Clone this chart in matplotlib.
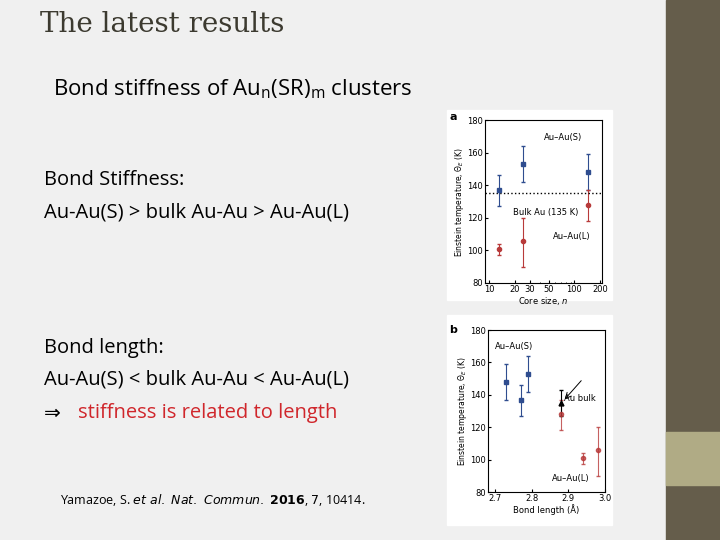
import matplotlib
matplotlib.use("Agg")
import matplotlib.pyplot as plt
from matplotlib.patches import Rectangle

BLUE = "#2f4d8f"
RED = "#b83a3a"
OLIVE = "#655d4b"
OLIVE_LIGHT = "#b0ab85"

# panel a: core size vs Einstein temperature
core_size = [13, 25, 144]
s_temp = [137, 153, 148]
s_err_lo = [10, 11, 11]
s_err_hi = [9, 11, 11]
l_temp = [101, 106, 128]
l_err_lo = [4, 16, 10]
l_err_hi = [3, 14, 9]
bulk_temp = 135

# panel b: bond length vs Einstein temperature
s_len = [2.73, 2.77, 2.79]
s_len_temp = [148, 137, 153]
s_len_err = [[11, 10, 11], [11, 9, 11]]
l_len = [2.88, 2.94, 2.98]
l_len_temp = [128, 101, 106]
l_len_err = [[10, 4, 16], [9, 3, 14]]
bulk_len = 2.88
bulk_err = 8

fig = plt.figure(figsize=(7.2, 5.4), dpi=100)
fig.patch.set_facecolor("#f0f0f0")


def add_rect(x, y, w, h, color):
    r = Rectangle((x / 720, 1 - (y + h) / 540), w / 720, h / 540, transform=fig.transFigure,
                  color=color, zorder=-5)
    fig.add_artist(r)


add_rect(666, 0, 54, 540, OLIVE)
add_rect(666, 432, 54, 53, OLIVE_LIGHT)
add_rect(447, 110, 165, 190, "white")
add_rect(447, 315, 165, 210, "white")

fig.text(40 / 720, 1 - 24 / 540, "The latest results", fontsize=20, family="DejaVu Serif",
         color="#3c3a30", va="center")
fig.text(53 / 720, 1 - 89 / 540, r"Bond stiffness of Au$_\mathregular{n}$(SR)$_\mathregular{m}$ clusters",
         fontsize=16, family="Open Sans", va="center")
fig.text(44 / 720, 1 - 180 / 540, "Bond Stiffness:", fontsize=14.5, family="Open Sans", va="center")
fig.text(44 / 720, 1 - 213 / 540, "Au-Au(S) > bulk Au-Au > Au-Au(L)", fontsize=14.5, family="Open Sans",
         va="center")
fig.text(44 / 720, 1 - 348 / 540, "Bond length:", fontsize=14.5, family="Open Sans", va="center")
fig.text(44 / 720, 1 - 380 / 540, "Au-Au(S) < bulk Au-Au < Au-Au(L)", fontsize=14.5, family="Open Sans",
         va="center")
fig.text(44 / 720, 1 - 413 / 540, "⇒", fontsize=14.5, family="DejaVu Sans", va="center")
fig.text(78 / 720, 1 - 413 / 540, "stiffness is related to length", fontsize=14.5, family="Open Sans",
         va="center", color="#d0262b")
fig.text(60 / 720, 1 - 500 / 540, r"Yamazoe, S. $\it{et\ al.\ Nat.\ Commun.}$ $\bf{2016}$, $\it{7}$, 10414.",
         fontsize=9, family="Open Sans", va="center")

tick_kw = dict(labelsize=6, length=2, pad=1.5, direction="in")

# panel a
ax = fig.add_axes([485 / 720, 1 - 283 / 540, 117 / 720, 163 / 540])
ax.errorbar(core_size, s_temp, yerr=[s_err_lo, s_err_hi], fmt="s", color=BLUE, ms=3, capsize=1.5, elinewidth=0.8)
ax.errorbar(core_size, l_temp, yerr=[l_err_lo, l_err_hi], fmt="o", color=RED, ms=3, capsize=1.5, elinewidth=0.8)
ax.axhline(bulk_temp, color="black", ls=":", lw=1)
ax.set_xscale("log")
ax.set_xlim(9, 210)
ax.set_ylim(80, 180)
ax.set_xticks([10, 20, 30, 50, 100, 200])
ax.set_xticklabels(["10", "20", "30", "50", "100", "200"])
ax.set_yticks([80, 100, 120, 140, 160, 180])
ax.tick_params(**tick_kw)
ax.tick_params(which="minor", direction="in", length=1)
ax.set_xlabel("Core size, $n$", fontsize=6, labelpad=1)
ax.set_ylabel(r"Einstein temperature, $\Theta_E$ (K)", fontsize=5.5, labelpad=1)
ax.text(0.5, 0.88, "Au–Au(S)", transform=ax.transAxes, fontsize=6)
ax.text(0.24, 0.42, "Bulk Au (135 K)", transform=ax.transAxes, fontsize=6)
ax.text(0.58, 0.27, "Au–Au(L)", transform=ax.transAxes, fontsize=6)
fig.text(449 / 720, 1 - 120 / 540, "a", fontsize=8, weight="bold")

# panel b
bx = fig.add_axes([488 / 720, 1 - 492 / 540, 117 / 720, 162 / 540])
bx.errorbar(s_len, s_len_temp, yerr=s_len_err, fmt="s", color=BLUE, ms=3, capsize=1.5, elinewidth=0.8)
bx.errorbar(l_len, l_len_temp, yerr=l_len_err, fmt="o", color=RED, ms=3, capsize=1.5,
            elinewidth=0.8, alpha=0.8)
bx.errorbar([bulk_len], [bulk_temp], yerr=bulk_err, fmt="^", color="black", ms=3.5, capsize=1.5, elinewidth=0.8)
bx.annotate("", xy=(2.885, 136), xytext=(2.94, 150), arrowprops=dict(arrowstyle="->", lw=0.7))
bx.set_xlim(2.68, 3.0)
bx.set_ylim(80, 180)
bx.set_xticks([2.7, 2.8, 2.9, 3.0])
bx.set_yticks([80, 100, 120, 140, 160, 180])
bx.tick_params(**tick_kw)
bx.set_xlabel("Bond length (Å)", fontsize=6, labelpad=1)
bx.set_ylabel(r"Einstein temperature, $\Theta_E$ (K)", fontsize=5.5, labelpad=1)
bx.text(0.06, 0.88, "Au–Au(S)", transform=bx.transAxes, fontsize=6)
bx.text(0.65, 0.56, "Au bulk", transform=bx.transAxes, fontsize=6)
bx.text(0.55, 0.07, "Au–Au(L)", transform=bx.transAxes, fontsize=6)
fig.text(449 / 720, 1 - 333 / 540, "b", fontsize=8, weight="bold")

fig.savefig("out.png", dpi=100, facecolor=fig.get_facecolor())
